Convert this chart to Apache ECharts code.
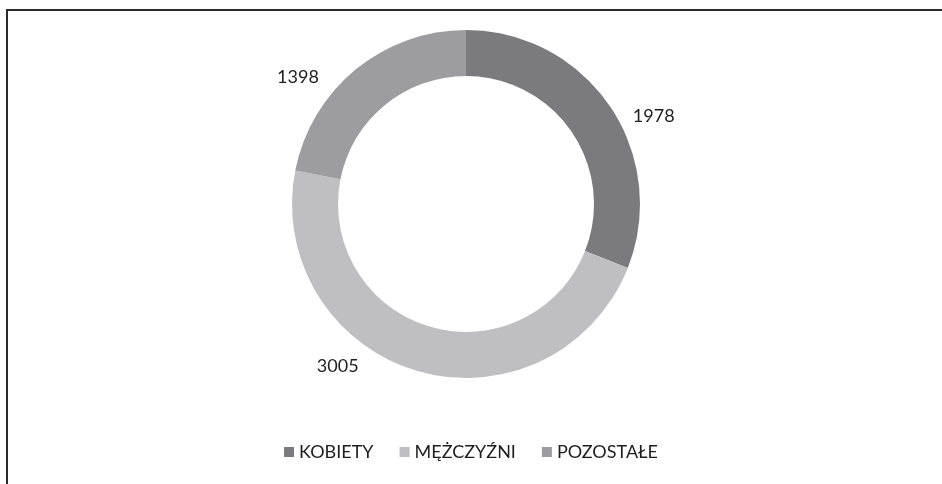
<!DOCTYPE html>
<html>
<head>
<meta charset="utf-8">
<script src="https://cdn.jsdelivr.net/npm/echarts@6/dist/echarts.min.js"></script>
<style>
  html, body { margin: 0; padding: 0; background: #fff; }
  #chart { width: 942px; height: 484px; }
</style>
</head>
<body>
<div id="chart"></div>
<script>
var categories = ['KOBIETY', 'MĘŻCZYŹNI', 'POZOSTAŁE'];
var values = [1978, 3005, 1398];
var colors = ['#7b7b7e', '#bfbfc2', '#9d9da0'];
// nudges so labels sit where the original chart put them
var labelShift = [[8, 17], [-50, -16], [-24, 17]];

var chart = echarts.init(document.getElementById('chart'));

var option = {
  animation: false,
  color: colors,
  textStyle: { fontFamily: 'Lato, "Open Sans", sans-serif' },
  graphic: [
    {
      type: 'rect',
      shape: { x: 7, y: 10, width: 1000, height: 1000 },
      style: { fill: 'none', stroke: '#2b2b2b', lineWidth: 2 }
    }
  ],
  legend: {
    bottom: 18,
    left: 'center',
    itemWidth: 10,
    itemHeight: 10,
    itemGap: 26,
    icon: 'rect',
    textStyle: { fontSize: 18, color: '#1e1e1e', fontFamily: 'Lato, "Open Sans", sans-serif' },
    data: categories
  },
  series: [
    {
      type: 'pie',
      center: [466, 204],
      radius: [128, 174],
      startAngle: 90,
      clockwise: true,
      label: {
        show: true,
        position: 'outside',
        formatter: '{c}',
        fontSize: 18,
        color: '#1e1e1e'
      },
      labelLine: { show: false, length: 12, length2: 0 },
      labelLayout: function (params) {
        var s = labelShift[params.dataIndex];
        return { dx: s[0], dy: s[1] };
      },
      emphasis: { disabled: true },
      data: categories.map(function (name, i) {
        return { name: name, value: values[i] };
      })
    }
  ]
};

chart.setOption(option);
</script>
</body>
</html>
